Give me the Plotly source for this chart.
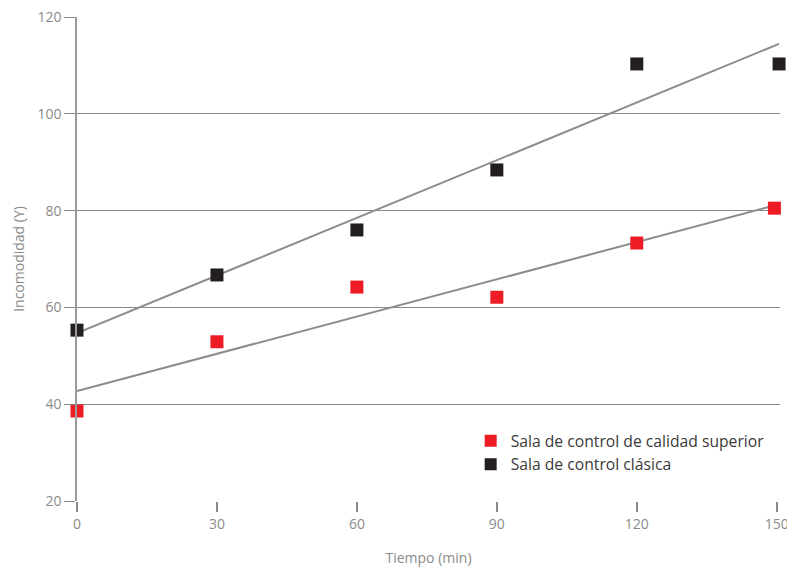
import numpy as np
import plotly.graph_objects as go

tiempo_sup = [0, 30, 60, 90, 120, 149.5]
incom_sup = [38.6, 52.9, 64.2, 62.1, 73.3, 80.5]
tiempo_cla = [0, 30, 60, 90, 120, 150.5]
incom_cla = [55.3, 66.7, 76.0, 88.4, 110.3, 110.3]
names = ["Sala de control de calidad superior", "Sala de control clásica"]
colors = ["#ED1C24", "#231F20"]
x_ticks = [0, 30, 60, 90, 120, 150]
y_ticks = [20, 40, 60, 80, 100, 120]

fig = go.Figure()
for xs, ys in [(tiempo_sup, incom_sup), (tiempo_cla, incom_cla)]:
    m, b = np.polyfit(xs, ys, 1)
    xl = np.array([0, max(xs)])
    fig.add_trace(go.Scatter(x=xl, y=m * xl + b, mode="lines", line=dict(color="#8c8c8c", width=2),
                             showlegend=False, hoverinfo="skip", cliponaxis=False))
for xs, ys, n, c in [(tiempo_sup, incom_sup, names[0], colors[0]), (tiempo_cla, incom_cla, names[1], colors[1])]:
    fig.add_trace(go.Scatter(x=xs, y=ys, mode="markers", name=n,
                             marker=dict(symbol="square", size=13, color=c), cliponaxis=False))

fig.update_layout(
    width=787, height=569,
    margin=dict(l=77, r=7, t=17, b=68, autoexpand=False),
    plot_bgcolor="white", paper_bgcolor="white",
    font=dict(family="Open Sans, sans-serif", color="#8a8a8a", size=14),
    legend=dict(x=0.56, y=0.159, xanchor="left", yanchor="top", font=dict(size=15.7, color="#3a3a3a"),
                bgcolor="rgba(0,0,0,0)", itemsizing="constant"),
    xaxis=dict(range=[0, 150.7], tickvals=x_ticks, showgrid=False, zeroline=False, showline=False,
               automargin=False, ticklabeloverflow="allow",
               ticks="outside", ticklen=10, tickcolor="#8a8a8a", tickwidth=1.5,
               title=dict(text="Tiempo (min)", standoff=21, font=dict(size=14))),
    yaxis=dict(range=[20, 120], tickvals=y_ticks, showgrid=True, gridcolor="#8a8a8a", gridwidth=1,
               automargin=False, ticklabeloverflow="allow",
               zeroline=False, showline=True, linecolor="#9a9a9a", linewidth=1.5,
               ticks="outside", ticklen=11, tickcolor="#8a8a8a",
               title=dict(text="Incomodidad (Y)", standoff=10, font=dict(size=14))),
)
fig.write_html("out.html", config={"displayModeBar": False},
               post_script="document.body.style.margin='0';document.body.style.overflow='hidden';")
